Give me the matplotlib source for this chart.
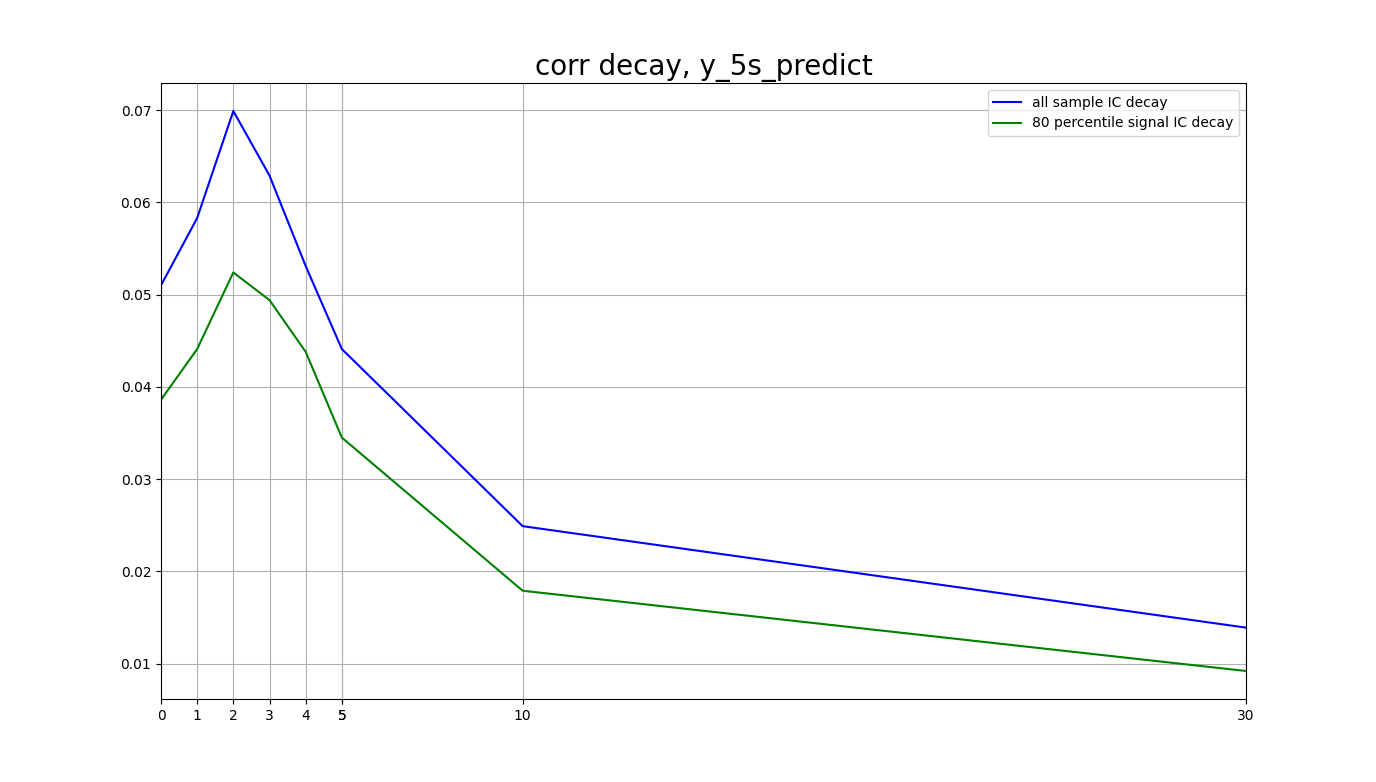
import matplotlib
matplotlib.use("Agg")
import matplotlib.pyplot as plt

lags = [0, 1, 2, 3, 4, 5, 10, 30]
tick_labels = [0, 1, 2, 3, 4, 5, 5, 10, 30]
all_ic = [0.0510, 0.0583, 0.0699, 0.0629, 0.0531, 0.0441, 0.0249, 0.0139]
top_ic = [0.0386, 0.0441, 0.0524, 0.0494, 0.0438, 0.0345, 0.0179, 0.0092]

fig = plt.figure(figsize=(13.76, 7.82), dpi=100)
ax = fig.add_axes([161/1376, 1-699/782, (1246-161)/1376, (699-83)/782])
ax.plot(lags, all_ic, color="blue", label="all sample IC decay")
ax.plot(lags, top_ic, color="green", label="80 percentile signal IC decay")
ax.set_xticks(tick_labels)
ax.set_xticklabels([str(t) for t in tick_labels])
ax.set_xlim(0, 30)
ax.grid(True)
ax.legend(loc="upper right")
ax.set_title("corr decay, y_5s_predict", fontsize=20)
fig.savefig("out.png", dpi=100)
